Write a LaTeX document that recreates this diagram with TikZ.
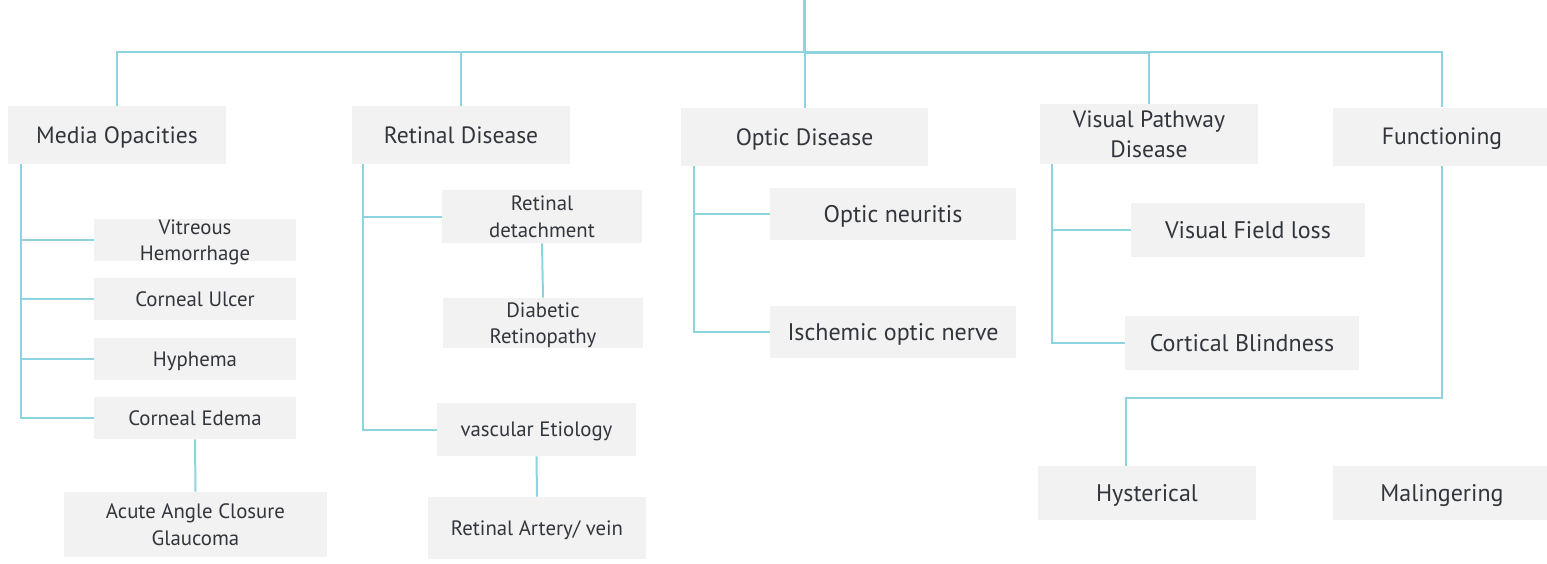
\documentclass[tikz,border=0pt]{standalone}
\usepackage{fontspec}
\setmainfont{PT Sans}
\usetikzlibrary{positioning,calc}
\definecolor{linkcol}{RGB}{141,212,224}
\definecolor{boxcol}{RGB}{242,242,242}
\definecolor{txtcol}{RGB}{50,54,60}

\begin{document}
\begin{tikzpicture}[x=0.5pt,y=-0.5pt,
  every node/.style={rectangle,fill=boxcol,text=txtcol,inner sep=0pt,align=center,text depth=0pt},
  topbox/.style={minimum width=109pt,minimum height=29pt,font=\fontsize{11.8}{14.8}\selectfont},
  midbox/.style={minimum width=117pt,minimum height=27pt,font=\fontsize{12}{15}\selectfont},
  subbox/.style={minimum width=101pt,minimum height=21pt,font=\fontsize{10.4}{13.3}\selectfont},
  link/.style={draw=linkcol,line width=1pt},
  trunk/.style={draw=linkcol,line width=1.5pt}
]
\useasboundingbox (0,0) rectangle (1547,563);

% the top row
\node[topbox] (med) at (117,135) {Media Opacities};
\node[topbox] (ret) at (461,135) {Retinal Disease};
\node[topbox,minimum width=123.5pt] (opt) at (804.5,137) {Optic Disease};
\node[topbox,minimum height=30pt] (vpd) at (1149,134) {Visual Pathway\\Disease};
\node[topbox] (fun) at (1442,136.5) {Functioning};

% media opacities
\node[subbox] (vit) at (195,240) {\smash{\raisebox{-3.5pt}{\begin{tabular}{@{}c@{}}Vitreous\\Hemorrhage\end{tabular}}}};
\node[subbox] (cul) at (195,299) {Corneal Ulcer};
\node[subbox] (hyp) at (195,359) {Hyphema};
\node[subbox] (ced) at (195,418) {Corneal Edema};
\node[subbox,minimum width=131.5pt,minimum height=32.5pt] (aac) at (195.5,524.5) {Acute Angle Closure\\Glaucoma};

% retinal disease
\node[subbox,minimum width=100pt,minimum height=26.5pt] (rdt) at (542,216.5) {Retinal\\detachment};
\node[subbox,minimum width=100pt,minimum height=25pt] (dia) at (543,323) {Diabetic\\Retinopathy};
\node[subbox,minimum width=99.5pt,minimum height=26.5pt] (vas) at (536.5,429.5) {vascular Etiology};
\node[subbox,minimum width=109pt,minimum height=31pt] (rav) at (537,528) {Retinal Artery/ vein};

% optic disease
\node[midbox,minimum width=123pt,minimum height=26pt] (onr) at (893,214) {Optic neuritis};
\node[midbox,minimum width=123pt,minimum height=26pt] (isc) at (893,332) {Ischemic optic nerve};

% visual pathway and functioning
\node[midbox] (vfl) at (1248,229.5) {Visual Field loss};
\node[midbox] (cbl) at (1242,343) {Cortical Blindness};
\node[midbox,minimum width=109pt] (hys) at (1147,493) {Hysterical};
\node[midbox,minimum width=109pt] (mal) at (1442,493) {Malingering};

% the tree on top
\coordinate (root) at (804,0);
\coordinate (bus) at (804,52);
\draw[trunk] (root) -- (bus);
\draw[link] (med.north) |- (bus) -| (fun.north);
\draw[trunk] (bus) -- (vpd.north |- bus);
\foreach \n in {ret,opt,vpd}
  \draw[link] (\n.north |- bus) -- (\n.north);

% the spines
\coordinate (medbus) at ([xshift=6.5pt]med.south west);
\draw[link] (medbus) |- (ced.west);
\foreach \n in {vit,cul,hyp}
  \draw[link] (medbus |- \n.west) -- (\n.west);
\draw[link] (ced.south) -- (aac.north);

\coordinate (retbus) at ([xshift=5.5pt]ret.south west);
\draw[link] (retbus) |- (vas.west);
\draw[link] (retbus |- rdt.west) -- (rdt.west);
\draw[link] (rdt.south) -- (dia.north);
\draw[link] (vas.south) -- (rav.north);

\coordinate (optbus) at ([xshift=6.5pt]opt.south west);
\draw[link] (optbus) |- (isc.west);
\draw[link] (optbus |- onr.west) -- (onr.west);

\coordinate (vpdbus) at ([xshift=6pt]vpd.south west);
\draw[link] (vpdbus) |- (cbl.west);
\draw[link] (vpdbus |- vfl.west) -- (vfl.west);

\draw[link] (fun.south) -- ++(0,232) -| ([xshift=-10.5pt]hys.north);

\end{tikzpicture}
\end{document}
